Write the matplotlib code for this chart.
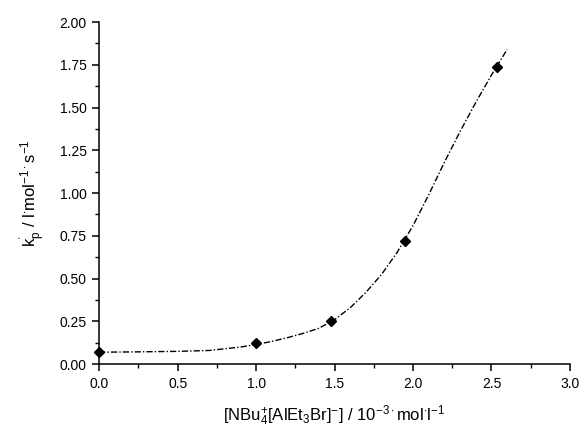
import matplotlib
matplotlib.use("Agg")
import matplotlib.pyplot as plt
from matplotlib.ticker import MultipleLocator, FormatStrFormatter

plt.rcParams['font.family'] = ['Liberation Sans', 'DejaVu Sans']
plt.rcParams['mathtext.fontset'] = 'custom'
plt.rcParams['mathtext.rm'] = 'Liberation Sans'
plt.rcParams['mathtext.it'] = 'Liberation Sans'
plt.rcParams['mathtext.bf'] = 'Liberation Sans:bold'

# measured points
conc = [0.0, 1.0, 1.48, 1.95, 2.535]
kp = [0.07, 0.125, 0.255, 0.72, 1.735]

# fitted curve
curve_x = [0.0, 0.25, 0.5, 0.7, 0.8, 0.9, 1.0, 1.1, 1.2, 1.3, 1.4, 1.5, 1.6, 1.7,
           1.8, 1.9, 2.0, 2.1, 2.2, 2.3, 2.4, 2.5, 2.6]
curve_y = [0.07, 0.072, 0.075, 0.08, 0.09, 0.1, 0.115, 0.133, 0.155, 0.18, 0.21, 0.26,
           0.33, 0.42, 0.525, 0.655, 0.81, 0.99, 1.18, 1.36, 1.53, 1.69, 1.84]

fig = plt.figure(figsize=(5.8, 4.32), dpi=100)
ax = fig.add_axes([0.171, 0.157, 0.8116, 0.792])

ax.plot(curve_x, curve_y, color='black', lw=1.0, linestyle=(0, (4.5, 1.5, 1.0, 1.5)))
ax.plot(conc, kp, linestyle='none', marker='D', color='black', markersize=5.5, clip_on=False, zorder=5)

ax.set_xlim(0, 3.0)
ax.set_ylim(0, 2.0)
ax.xaxis.set_major_locator(MultipleLocator(0.5))
ax.xaxis.set_minor_locator(MultipleLocator(0.25))
ax.yaxis.set_major_locator(MultipleLocator(0.25))
ax.yaxis.set_minor_locator(MultipleLocator(0.125))
ax.xaxis.set_major_formatter(FormatStrFormatter('%.1f'))
ax.yaxis.set_major_formatter(FormatStrFormatter('%.2f'))

for s in ['top', 'right']:
    ax.spines[s].set_visible(False)
for s in ['left', 'bottom']:
    ax.spines[s].set_linewidth(1.1)

ax.tick_params(which='major', direction='out', length=5, width=1.1, labelsize=10, pad=4)
ax.tick_params(which='minor', direction='out', length=3, width=1.0)

ax.set_xlabel(r"[NBu$^{+}_{4}$[AlEt$_{3}$Br]$^{-}$] / 10$^{-3\cdot}$mol$^{\cdot}$l$^{-1}$", fontsize=12, labelpad=9)
ax.set_ylabel(r"k$^{'}_{p}$ / l$^{\cdot}$mol$^{-1\cdot}$s$^{-1}$", fontsize=12, labelpad=10)

fig.savefig("out.png", dpi=100)
